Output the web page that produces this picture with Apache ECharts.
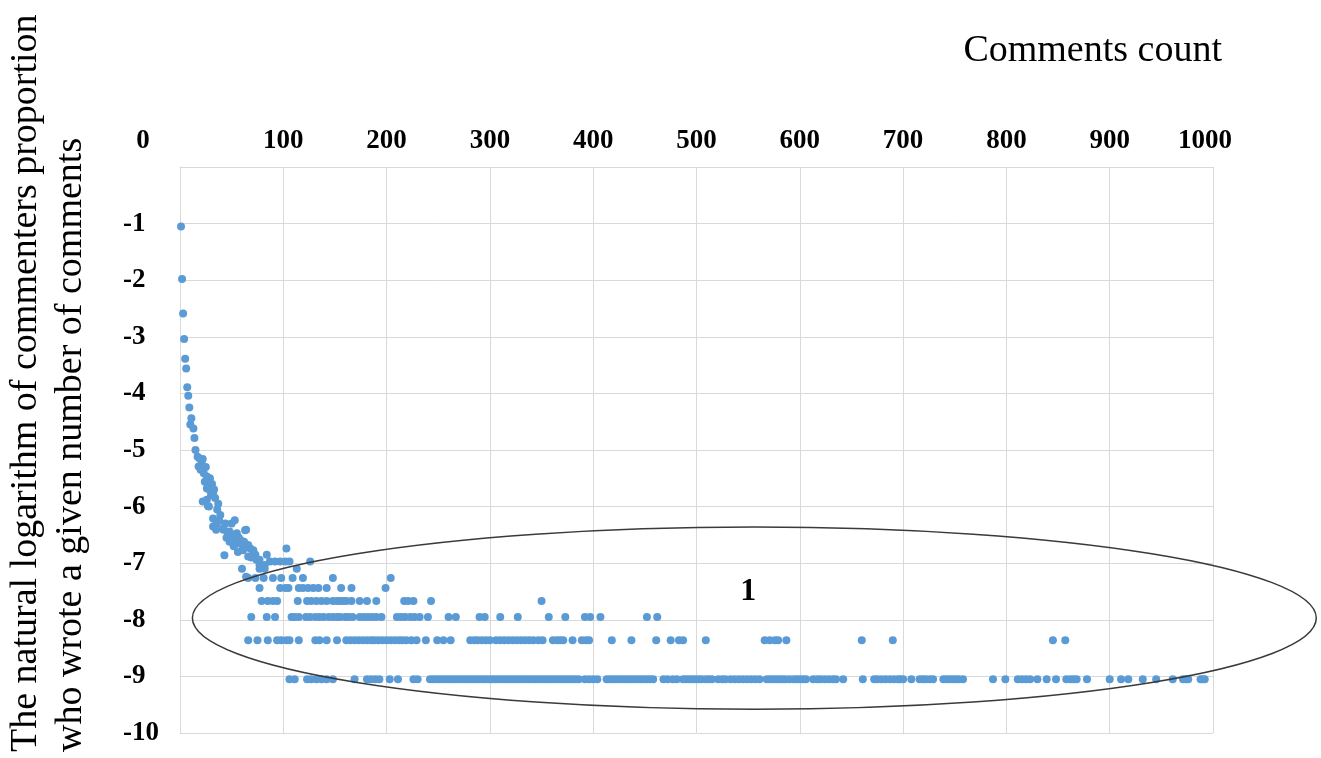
<!DOCTYPE html>
<html><head><meta charset="utf-8">
<script src="https://cdn.jsdelivr.net/npm/echarts@6/dist/echarts.min.js"></script>
<style>html,body{margin:0;padding:0;background:#fff}#c{width:1321px;height:758px}</style>
</head><body><div id="c"></div>
<script>
// ---- axis settings ----
const xRange = [0, 1000], xStep = 100;
const yRange = [-10, 0], yStep = 1;
const xTitle = 'Comments count';
const yTitle = ['The natural logarithm of commenters proportion', 'who wrote a given number of comments'];

// ---- data: steep part (comments count, ln proportion) ----
const steepPoints = [
  [1,-1.05],[2,-1.98],[3,-2.59],[4,-3.04],[5,-3.39],[6,-3.56],[7,-3.89],[8,-4.04],[9,-4.25],
  [11,-4.44],[10,-4.55],[13,-4.62],[14,-4.79],[15,-5.0],
  [17,-5.12],[19,-5.15],[22,-5.16],[18,-5.29],[20,-5.35],[21,-5.2],[25,-5.3],[23,-5.41],[26,-5.47],
  [24,-5.56],[28,-5.56],[29,-5.5],[31,-5.6],[26,-5.68],[29,-5.71],[33,-5.7],[32,-5.77],[30,-5.8],
  [34,-5.85],[22,-5.91],[26,-5.88],[28,-6.0],[27,-5.99],[37,-5.95],[36,-6.05],
  [32,-6.21],[39,-6.15],[38,-6.25],[35,-6.32],[32,-6.35],[35,-6.41],[42,-6.38],[44,-6.3],
  [42,-6.41],[48,-6.44],[46,-6.45],[53,-6.24],[50,-6.3],[55,-6.47],[51,-6.5],[63,-6.42],[64,-6.41],
  [47,-6.53],[45,-6.55],[48,-6.62],[53,-6.59],[57,-6.55],[59,-6.6],[55,-6.65],[58,-6.65],[62,-6.62],
  [61,-6.71],[52,-6.7],[66,-6.68],[61,-6.77],[56,-6.8],[68,-6.74],[71,-6.77],[71,-6.83],[73,-6.85],
  [66,-6.88],[69,-6.9],[74,-6.94],[77,-6.94],[43,-6.86],[84,-6.85],[77,-7.03],[82,-7.03],
  [103,-6.74],[64,-7.24]
];

// ---- data: discrete levels (ln of k commenters / total) ----
const levelValues = [-9.05, -8.36, -7.95, -7.67, -7.44, -7.26, -7.10, -6.97];
const level1X = [106,111,123,127,132,137,142,148,169,181,185,189,193,203,211,226,230,
  242,245,248,251,254,257,260,263,266,269,272,275,278,281,284,287,290,293,296,299,302,305,308,311,314,317,320,323,326,329,332,335,338,341,344,347,350,353,356,359,362,365,368,371,374,377,380,383,386,
  392,396,400,404,413,416,419,422,425,428,431,434,437,440,443,446,449,452,455,458,
  468,472,477,481,487,490,493,496,499,502,505,509,512,515,
  521,525,528,533,537,541,545,549,553,557,561,
  568,571,574,577,580,583,586,590,594,597,600,603,606,613,617,620,624,628,632,635,
  642,661,672,675,679,683,687,691,695,697,700,708,716,719,722,726,729,
  739,742,745,748,751,754,758,787,799,811,815,819,823,830,839,848,858,862,865,868,878,
  900,911,918,932,945,961,971,974,976,988,990,992];
const level2X = [66,75,85,94,98,103,106,115,131,135,142,152,
  161,165,169,173,177,181,185,188,192,196,200,204,208,212,215,219,224,229,238,249,255,262,
  281,285,288,292,296,300,306,310,314,318,322,326,330,334,338,342,347,
  351,361,365,368,371,380,389,393,396,418,437,461,475,483,487,509,566,571,576,579,587,660,690,845,857];
const level3X = [69,84,92,108,111,115,122,126,131,135,139,144,148,152,155,160,163,167,174,178,182,186,190,195,
  210,214,218,223,227,232,240,260,267,290,295,310,327,357,373,392,397,407,452,462];
const level4X = [79,85,90,94,114,123,127,132,137,142,148,152,155,158,161,166,174,181,190,217,221,226,243,350];
const level5X = [77,97,102,105,115,119,124,129,134,142,156,166,199];
const level6X = [66,73,81,90,98,109,119,148,204];
const level7X = [60,77,82,113];
const level8X = [87,92,97,102,106,126];
const levelXs = [level1X, level2X, level3X, level4X, level5X, level6X, level7X, level8X];

// ---- annotation: ellipse around the tail, label "1" ----
const ellipseArea = { cx: 556, cy: -7.97, rx: 544, ry: 1.61 };
const ellipseLabel = { x: 550, y: -7.51, text: '1' };

const dotColor = '#5B9BD5';
const serif = 'Liberation Serif';
const gridColor = '#d9d9d9';

const series = [{
  type: 'scatter', symbolSize: 8, itemStyle: { color: dotColor, opacity: 1 },
  data: steepPoints, z: 3
}];
levelXs.forEach((xs, i) => {
  series.push({
    type: 'scatter', symbolSize: 8, itemStyle: { color: dotColor, opacity: 1 },
    data: xs.map(x => [x, levelValues[i]]), z: 3
  });
});
series.push({
  type: 'custom', clip: false, z: 4, silent: true,
  data: [[ellipseArea.cx, ellipseArea.cy, ellipseArea.rx, ellipseArea.ry]],
  renderItem: function (params, api) {
    const c = api.coord([api.value(0), api.value(1)]);
    const s = api.size([api.value(2), api.value(3)]);
    const t = api.coord([ellipseLabel.x, ellipseLabel.y]);
    return {
      type: 'group',
      children: [
        { type: 'ellipse', shape: { cx: c[0], cy: c[1], rx: s[0], ry: s[1] },
          style: { fill: 'none', stroke: '#3a3a3a', lineWidth: 1.5 } },
        { type: 'text', x: t[0], y: t[1],
          style: { text: ellipseLabel.text, fill: '#000', font: 'bold 32px "' + serif + '"',
                   align: 'center', verticalAlign: 'middle' } }
      ]
    };
  }
});

const chart = echarts.init(document.getElementById('c'), null, { renderer: 'canvas' });
chart.setOption({
  animation: false,
  backgroundColor: '#fff',
  grid: { left: 180, right: 108, top: 167, bottom: 25, containLabel: false, outerBoundsMode: 'none' },
  xAxis: {
    type: 'value', position: 'top', min: xRange[0], max: xRange[1], interval: xStep,
    axisLine: { show: true, lineStyle: { color: gridColor, width: 1 } },
    axisTick: { show: false },
    splitLine: { show: true, lineStyle: { color: gridColor, width: 1 } },
    axisLabel: {
      margin: 12, color: '#000', fontFamily: serif, fontWeight: 'bold', fontSize: 27,
      showMinLabel: true, showMaxLabel: true,
      formatter: function (v) {
        if (v === 0) return '{z|0}';
        if (v === 1000) return '{e|1000}';
        return String(v);
      },
      rich: {
        z: { padding: [0, 74, 0, 0], color: '#000', fontFamily: serif, fontWeight: 'bold', fontSize: 27 },
        e: { padding: [0, 16, 0, 0], color: '#000', fontFamily: serif, fontWeight: 'bold', fontSize: 27 }
      }
    }
  },
  yAxis: {
    type: 'value', min: yRange[0], max: yRange[1], interval: yStep,
    axisLine: { show: true, lineStyle: { color: gridColor, width: 1 } },
    axisTick: { show: false },
    splitLine: { show: true, lineStyle: { color: gridColor, width: 1 } },
    axisLabel: {
      margin: 57, align: 'left', color: '#000', fontFamily: serif, fontWeight: 'bold', fontSize: 27,
      formatter: function (v) { return v === 0 ? '' : String(v); }
    }
  },
  graphic: [
    { type: 'text', x: 1222, y: 51,
      style: { text: xTitle, fill: '#000', font: '38px "' + serif + '"', align: 'right', verticalAlign: 'middle' } },
    { type: 'text', x: 4, y: 752, rotation: Math.PI / 2,
      style: { text: yTitle.join('\n'), fill: '#000', font: '38px "' + serif + '"', lineHeight: 45,
               align: 'left', verticalAlign: 'top' } }
  ],
  series: series
});
</script></body></html>
